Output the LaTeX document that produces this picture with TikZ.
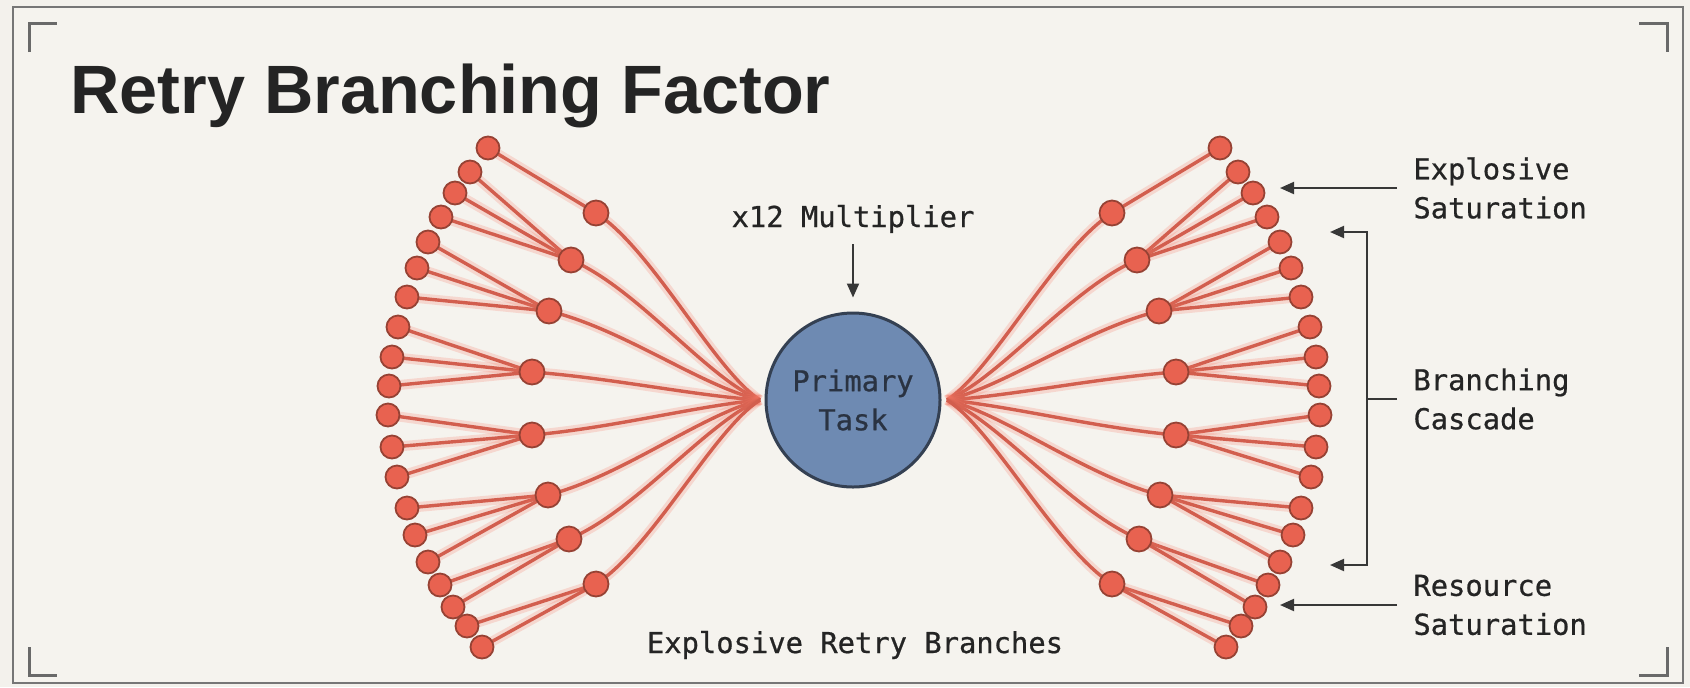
\documentclass[tikz,border=0pt]{standalone}
\usepackage{fontspec}
\setmainfont{Liberation Sans}
\newfontfamily\monof[FakeBold=0.7]{DejaVu Sans Mono}
\newfontfamily\titlef{Liberation Sans}
\usetikzlibrary{arrows.meta,calc}
\pgfdeclarelayer{bglayer}
\pgfdeclarelayer{edgelayer}
\pgfsetlayers{bglayer,edgelayer,main}
\definecolor{bgout}{RGB}{243,241,236}
\definecolor{panel}{RGB}{245,243,238}
\definecolor{framecol}{RGB}{118,118,118}
\definecolor{cornercol}{RGB}{105,105,105}
\definecolor{edgecol}{RGB}{210,94,78}
\definecolor{halocol}{RGB}{245,120,100}
\definecolor{nodefill}{RGB}{232,98,80}
\definecolor{nodeedge}{RGB}{150,66,52}
\definecolor{primfill}{RGB}{110,138,178}
\definecolor{primedge}{RGB}{52,64,82}
\definecolor{ink}{RGB}{36,36,36}
\definecolor{annot}{RGB}{55,55,55}
\begin{document}
\begin{tikzpicture}[x=0.5pt,y=-0.5pt,
  leafnode/.style={circle, fill=nodefill, draw=nodeedge, line width=0.9pt, minimum size=11.5pt, inner sep=0pt},
  midnode/.style={leafnode, minimum size=12.5pt},
  edgeline/.style={line width=1.7pt, draw=edgecol},
  haloline/.style={line width=5pt, draw=halocol, opacity=0.22},
  annotline/.style={draw=annot, line width=1pt},
  arr/.style={annotline, -{Triangle[length=7pt,width=6pt]}},
  mono/.style={font=\monof\fontsize{14.4pt}{19.5pt}\selectfont, text=ink},
  cornermark/.style={draw=cornercol, line width=1.5pt}
]
\useasboundingbox (0,0) rectangle (1690,687);
\begin{pgfonlayer}{bglayer}
  \fill[bgout] (0,0) rectangle (1690,687);
  \draw[framecol, fill=panel, line width=1.25pt] (13,7) rectangle (1683,683);
\end{pgfonlayer}

% corner marks
\draw[cornermark] (29,52) -- (29,23) -- (57,23);
\draw[cornermark] (1639,23) -- (1667,23) -- (1667,52);
\draw[cornermark] (29,647) -- (29,675) -- (57,675);
\draw[cornermark] (1639,675) -- (1667,675) -- (1667,647);

% title
\node[anchor=base west, inner sep=0pt, font=\titlef\bfseries\fontsize{34.2pt}{40pt}\selectfont, text=ink] (title) at (70,113) {Retry Branching Factor};

% primary task
\node[circle, fill=primfill, draw=primedge, line width=1.5pt, minimum size=87pt, inner sep=0pt, mono, text=primedge!80!black, align=center] (primary) at (853,400) {Primary\\Task};
\coordinate (rootL) at (760,400);
\coordinate (rootR) at (947,400);

% leaves
\foreach \i/\x/\y in {1/488/148,2/470/172,3/455/193,4/441/217,5/428/242,6/417/268,7/407/297,8/398/327,9/392/357,10/389/386,11/388/415,12/392/447,13/397/477,14/407/508,15/415/535,16/428/562,17/440/585,18/453/607,19/467/626,20/482/647} {
  \node[leafnode] (ll\i) at (\x,\y) {};
  \node[leafnode] (rl\i) at ({1708-\x},\y) {};
}
% mid nodes
\foreach \i/\x/\y in {1/596/213,2/571/260,3/549/311,4/532/372,5/532/435,6/548/495,7/569/539,8/596/584} {
  \node[midnode] (lm\i) at (\x,\y) {};
  \node[midnode] (rm\i) at ({1708-\x},\y) {};
}

\begin{pgfonlayer}{edgelayer}
  \foreach \l/\m in {1/1,2/2,3/2,4/2,5/3,6/3,7/3,8/4,9/4,10/4,11/5,12/5,13/5,14/6,15/6,16/6,17/7,18/7,19/8,20/8} {
    \draw[haloline] (ll\l.center) -- (lm\m.center);
    \draw[haloline] (rl\l.center) -- (rm\m.center);
    \draw[edgeline] (ll\l.center) -- (lm\m.center);
    \draw[edgeline] (rl\l.center) -- (rm\m.center);
  }
  \foreach \m/\ax/\ay/\bx/\by in {1/57/37/-46/-30,2/66/28/-53/-22,3/74/18/-59/-14,4/80/6/-64/-4,5/80/-7/-64/6,6/74/-19/-59/15,7/67/-28/-53/22,8/57/-37/-46/29} {
    \draw[haloline] (lm\m.center) .. controls +(\ax,\ay) and +(\bx,\by) .. (rootL);
    \draw[haloline] (rm\m.center) .. controls +({-1*\ax},\ay) and +({-1*\bx},\by) .. (rootR);
    \draw[edgeline] (lm\m.center) .. controls +(\ax,\ay) and +(\bx,\by) .. (rootL);
    \draw[edgeline] (rm\m.center) .. controls +({-1*\ax},\ay) and +({-1*\bx},\by) .. (rootR);
  }
\end{pgfonlayer}

% multiplier
\node[mono, anchor=base, inner sep=0pt] (mult) at (853,227) {x12 Multiplier};
\draw[arr, shorten <=5.5pt, shorten >=7pt] (mult.south) -- (primary.north);

% bottom label
\node[mono, anchor=base, inner sep=0pt] (ebr) at (855,653) {Explosive Retry Branches};

% right annotations
\node[mono, anchor=west, align=left, inner xsep=8pt, inner ysep=0pt] (es) at (1397,188) {Explosive\\Saturation};
\coordinate (esTip) at (1280,188);
\draw[arr] (es.west) -- (esTip);

\node[mono, anchor=west, align=left, inner xsep=8pt, inner ysep=0pt] (bc) at (1397,399) {Branching\\Cascade};
\coordinate (bcJ) at (1367,399);
\coordinate (bcTop) at (1330,232);
\coordinate (bcBot) at (1330,565);
\draw[annotline] (bc.west) -- (bcJ);
\draw[arr] (bcJ) |- (bcTop);
\draw[arr] (bcJ) |- (bcBot);

\node[mono, anchor=west, align=left, inner xsep=8pt, inner ysep=0pt] (rs) at (1397,605) {Resource\\Saturation};
\coordinate (rsTip) at (1280,605);
\draw[arr] (rs.west) -- (rsTip);
\end{tikzpicture}
\end{document}
